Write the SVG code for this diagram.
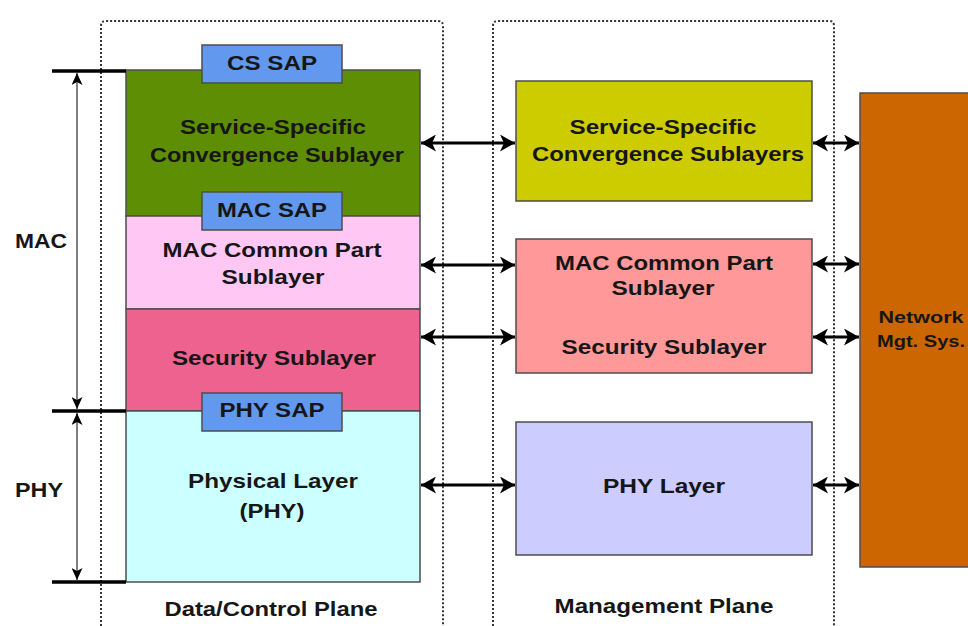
<svg xmlns="http://www.w3.org/2000/svg" width="968" height="626" viewBox="0 0 968 626">
<style>
.t{font-family:"Liberation Sans",Arial,sans-serif;font-weight:bold;font-size:21px;text-anchor:middle;fill:#161616;stroke:currentColor;stroke-width:0;}
.s{font-size:17px;}
.box{stroke:#4d4d4d;stroke-width:1.5;}
.plane{fill:none;stroke:#333;stroke-width:2;stroke-dasharray:2 2;}
.arr{stroke:#000;stroke-width:3;fill:none;}
.dim{stroke:#555;stroke-width:1.5;fill:none;}
.bar{stroke:#000;stroke-width:3.5;}
</style>
<defs>
<marker id="ah" viewBox="0 0 15 17" refX="15" refY="8.5" markerWidth="15" markerHeight="17" markerUnits="userSpaceOnUse" orient="auto-start-reverse">
<path d="M0,0 L15,8.5 L0,17 L4,8.5 z" fill="#000"/>
</marker>
<marker id="dh" viewBox="0 0 12 11" refX="12" refY="5.5" markerWidth="12" markerHeight="11" markerUnits="userSpaceOnUse" orient="auto-start-reverse">
<path d="M0,0 L12,5.5 L0,11 L3,5.5 z" fill="#000"/>
</marker>
</defs>
<rect width="968" height="626" fill="#fff"/>

<g id="data-control-plane">
<path class="plane" d="M101,630 L101,26 Q101,21 106,21 L438,21 Q443,21 443,26 L443,630"/>
<text class="t" x="271" y="616" textLength="213" lengthAdjust="spacingAndGlyphs">Data/Control Plane</text>
</g>
<g id="management-plane">
<path class="plane" d="M493,630 L493,26 Q493,21 498,21 L829,21 Q834,21 834,26 L834,630"/>
<text class="t" x="664" y="613" textLength="219" lengthAdjust="spacingAndGlyphs">Management Plane</text>
</g>

<g id="cs-sublayer">
<rect class="box" x="126" y="70" width="294" height="146" fill="#5e8e04"/>
<text class="t" x="273" y="134" textLength="186" lengthAdjust="spacingAndGlyphs" fill="#0f2200">Service-Specific</text>
<text class="t" x="277" y="162" textLength="254" lengthAdjust="spacingAndGlyphs" fill="#0f2200">Convergence Sublayer</text>
</g>
<g id="mac-cps">
<rect class="box" x="126" y="216" width="294" height="93" fill="#ffc8f4"/>
<text class="t" x="272" y="257" textLength="219" lengthAdjust="spacingAndGlyphs" fill="#2a0a22">MAC Common Part</text>
<text class="t" x="273" y="284" textLength="103" lengthAdjust="spacingAndGlyphs" fill="#2a0a22">Sublayer</text>
</g>
<g id="security-sublayer">
<rect class="box" x="126" y="309" width="294" height="102" fill="#ee6290"/>
<text class="t" x="274" y="365" textLength="204" lengthAdjust="spacingAndGlyphs" fill="#330012">Security Sublayer</text>
</g>
<g id="physical-layer">
<rect class="box" x="126" y="411" width="294" height="171" fill="#ccffff"/>
<text class="t" x="273" y="488" textLength="170" lengthAdjust="spacingAndGlyphs" fill="#102a2a">Physical Layer</text>
<text class="t" x="272" y="518" textLength="65" lengthAdjust="spacingAndGlyphs" fill="#102a2a">(PHY)</text>
</g>
<g id="cs-sap">
<rect class="box" x="202" y="45" width="140" height="38" fill="#6298ee"/>
<text class="t" x="272" y="70" textLength="90" lengthAdjust="spacingAndGlyphs" fill="#0a1430">CS SAP</text>
</g>
<g id="mac-sap">
<rect class="box" x="202" y="192" width="140" height="38" fill="#6298ee"/>
<text class="t" x="272" y="217" textLength="110" lengthAdjust="spacingAndGlyphs" fill="#0a1430">MAC SAP</text>
</g>
<g id="phy-sap">
<rect class="box" x="202" y="393" width="140" height="38" fill="#6298ee"/>
<text class="t" x="272" y="417" textLength="105" lengthAdjust="spacingAndGlyphs" fill="#0a1430">PHY SAP</text>
</g>

<g id="mgmt-cs">
<rect class="box" x="516" y="81" width="296" height="120" fill="#cccc00"/>
<text class="t" x="663" y="134" textLength="187" lengthAdjust="spacingAndGlyphs" fill="#222200">Service-Specific</text>
<text class="t" x="668" y="161" textLength="272" lengthAdjust="spacingAndGlyphs" fill="#222200">Convergence Sublayers</text>
</g>
<g id="mgmt-mac">
<rect class="box" x="516" y="239" width="296" height="134" fill="#ff9999"/>
<text class="t" x="664" y="270" textLength="218" lengthAdjust="spacingAndGlyphs" fill="#2a0808">MAC Common Part</text>
<text class="t" x="663" y="295" textLength="103" lengthAdjust="spacingAndGlyphs" fill="#2a0808">Sublayer</text>
<text class="t" x="664" y="354" textLength="205" lengthAdjust="spacingAndGlyphs" fill="#2a0808">Security Sublayer</text>
</g>
<g id="mgmt-phy">
<rect class="box" x="516" y="422" width="296" height="133" fill="#ccccff"/>
<text class="t" x="664" y="493" textLength="122" lengthAdjust="spacingAndGlyphs" fill="#141430">PHY Layer</text>
</g>
<g id="network-mgt-sys">
<rect class="box" x="860" y="93" width="112" height="474" fill="#cc6600"/>
<text class="t s" x="921" y="323" textLength="85" lengthAdjust="spacingAndGlyphs" fill="#2a1000">Network</text>
<text class="t s" x="921" y="347" textLength="88" lengthAdjust="spacingAndGlyphs" fill="#2a1000">Mgt. Sys.</text>
</g>

<g id="mac-label">
<text class="t" x="41" y="248" textLength="52" lengthAdjust="spacingAndGlyphs">MAC</text>
</g>
<g id="phy-label">
<text class="t" x="39" y="497" textLength="48" lengthAdjust="spacingAndGlyphs">PHY</text>
</g>

<g id="connectors">
<line class="bar" x1="52" y1="71" x2="126" y2="71"/>
<line class="bar" x1="52" y1="411" x2="126" y2="411"/>
<line class="bar" x1="52" y1="582" x2="126" y2="582"/>
<line class="dim" x1="77" y1="73" x2="77" y2="409" marker-start="url(#dh)" marker-end="url(#dh)"/>
<line class="dim" x1="77" y1="413" x2="77" y2="580" marker-start="url(#dh)" marker-end="url(#dh)"/>
<line class="arr" x1="421" y1="143" x2="515" y2="143" marker-start="url(#ah)" marker-end="url(#ah)"/>
<line class="arr" x1="421" y1="265" x2="515" y2="265" marker-start="url(#ah)" marker-end="url(#ah)"/>
<line class="arr" x1="421" y1="337" x2="515" y2="337" marker-start="url(#ah)" marker-end="url(#ah)"/>
<line class="arr" x1="421" y1="485" x2="515" y2="485" marker-start="url(#ah)" marker-end="url(#ah)"/>
<line class="arr" x1="813" y1="143" x2="859" y2="143" marker-start="url(#ah)" marker-end="url(#ah)"/>
<line class="arr" x1="813" y1="264" x2="859" y2="264" marker-start="url(#ah)" marker-end="url(#ah)"/>
<line class="arr" x1="813" y1="337" x2="859" y2="337" marker-start="url(#ah)" marker-end="url(#ah)"/>
<line class="arr" x1="813" y1="485" x2="859" y2="485" marker-start="url(#ah)" marker-end="url(#ah)"/>
</g>
</svg>
